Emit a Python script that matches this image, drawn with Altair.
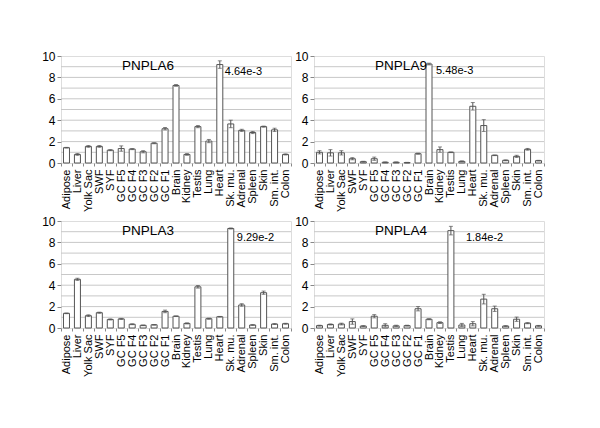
import altair as alt
import pandas as pd

tissues = ["Adipose", "Liver", "Yolk Sac", "SWF", "SYF", "GC F5", "GC F4", "GC F3",
           "GC F2", "GC F1", "Brain", "Kidney", "Testis", "Lung", "Heart", "Sk. mu.",
           "Adrenal", "Spleen", "Skin", "Sm. int.", "Colon"]

y_labels = [0, 2, 4, 6, 8, 10]
grid_lines = [1, 2, 3, 4, 5, 6, 7, 8, 9]

pnpla6_val = [1.43, 0.8, 1.55, 1.55, 1.2, 1.35, 1.3, 1.05, 1.85, 3.2, 7.25, 0.8, 3.4, 2.05,
              9.2, 3.65, 3.05, 2.85, 3.4, 3.1, 0.8]
pnpla6_err = [0.03, 0.08, 0.08, 0.08, 0.05, 0.25, 0.05, 0.1, 0.05, 0.12, 0.08, 0.08, 0.1, 0.15,
              0.35, 0.35, 0.1, 0.1, 0.05, 0.15, 0.05]

pnpla9_val = [1.0, 0.95, 0.95, 0.4, 0.12, 0.4, 0.07, 0.07, 0.04, 0.87, 9.25, 1.25, 1.0, 0.15,
              5.3, 3.5, 0.72, 0.25, 0.62, 1.28, 0.22]
pnpla9_err = [0.15, 0.3, 0.2, 0.1, 0.04, 0.15, 0.03, 0.03, 0.02, 0.05, 0.08, 0.25, 0.03, 0.05,
              0.35, 0.55, 0.03, 0.04, 0.1, 0.08, 0.03]

pnpla3_val = [1.37, 4.55, 1.15, 1.43, 0.8, 0.85, 0.35, 0.25, 0.3, 1.55, 1.1, 0.43, 3.85, 0.87,
              1.05, 9.3, 2.15, 0.28, 3.3, 0.37, 0.4]
pnpla3_err = [0.03, 0.1, 0.08, 0.05, 0.05, 0.05, 0.04, 0.03, 0.03, 0.12, 0.03, 0.05, 0.12, 0.05,
              0.03, 0.05, 0.12, 0.03, 0.15, 0.04, 0.04]

pnpla4_val = [0.22, 0.33, 0.37, 0.6, 0.18, 1.1, 0.25, 0.2, 0.22, 1.8, 0.82, 0.5, 9.1, 0.28,
              0.4, 2.7, 1.8, 0.18, 0.82, 0.45, 0.2]
pnpla4_err = [0.04, 0.05, 0.08, 0.25, 0.04, 0.15, 0.15, 0.06, 0.04, 0.2, 0.05, 0.08, 0.4, 0.15,
              0.2, 0.45, 0.25, 0.04, 0.2, 0.05, 0.04]

notes = {
    "PNPLA6": ("4.64e-3", "Heart", 8.5, 5),
    "PNPLA9": ("5.48e-3", "Brain", 8.6, 7),
    "PNPLA3": ("9.29e-2", "Sk. mu.", 8.4, 6),
    "PNPLA4": ("1.84e-2", "Testis", 8.4, 15),
}

FONT = "Liberation Sans"
STROKE = "#555555"


def yax():
    return alt.Axis(values=y_labels, labelFontSize=12, labelFont=FONT, labelColor="#000",
                    labelOverlap=False, labelFlush=False, labelBound=False, grid=False,
                    domain=False, tickSize=4, tickColor="#888", labelPadding=2)


def xax():
    return alt.Axis(labelAngle=-90, labelFontSize=11, labelFont=FONT, labelColor="#000",
                    labelOverlap=False, grid=False, domain=False, tickBand="extent",
                    tickSize=3, tickColor="#888", labelPadding=3)


def panel(name, vals, errs):
    df = pd.DataFrame({"tissue": tissues, "value": vals, "err": errs})
    df["lo"] = df["value"] - df["err"]
    df["hi"] = df["value"] + df["err"]

    xscale = alt.Scale(domain=tissues, paddingInner=0.0, paddingOuter=0.0)
    yscale = alt.Scale(domain=[0, 10], nice=False)

    x = alt.X("tissue:N", sort=tissues, scale=xscale, title=None, axis=xax())
    y = alt.Y("value:Q", scale=yscale, title=None, axis=yax())

    gdf = pd.DataFrame({"g": grid_lines})
    grid = alt.Chart(gdf).mark_rule(color="#c8c8c8", strokeWidth=1).encode(
        y=alt.Y("g:Q", scale=yscale, title=None, axis=yax()))

    base = alt.Chart(df)
    bars = base.mark_bar(size=6, fill="white", stroke=STROKE, strokeWidth=1).encode(x=x, y=y)
    err = base.mark_rule(color=STROKE, strokeWidth=1).encode(
        x=x, y=alt.Y("lo:Q", title=None, axis=yax()), y2="hi:Q")
    cap_lo = base.mark_tick(color=STROKE, thickness=1, size=4).encode(
        x=x, y=alt.Y("lo:Q", title=None, axis=yax()))
    cap_hi = base.mark_tick(color=STROKE, thickness=1, size=4).encode(
        x=x, y=alt.Y("hi:Q", title=None, axis=yax()))

    note_text, note_cat, note_y, note_dx = notes[name]
    ndf = pd.DataFrame({"tissue": [note_cat], "value": [note_y], "label": [note_text]})
    note = alt.Chart(ndf).mark_text(align="left", baseline="middle", dx=note_dx, fontSize=11,
                                    font=FONT, color="#000").encode(
        x=x, y=y, text="label:N")

    tdf = pd.DataFrame({"label": [name]})
    title = alt.Chart(tdf).mark_text(align="center", baseline="middle", fontSize=13.5,
                                     font=FONT, color="#000").encode(
        x=alt.value(87), y=alt.value(10), text="label:N")

    return alt.layer(grid, bars, err, cap_lo, cap_hi, note, title).properties(
        width=230, height=107)


p6 = panel("PNPLA6", pnpla6_val, pnpla6_err)
p9 = panel("PNPLA9", pnpla9_val, pnpla9_err)
p3 = panel("PNPLA3", pnpla3_val, pnpla3_err)
p4 = panel("PNPLA4", pnpla4_val, pnpla4_err)

chart = alt.vconcat(
    alt.hconcat(p6, p9, spacing=2),
    alt.hconcat(p3, p4, spacing=2),
    spacing=2,
).properties(
    padding={"left": 33, "top": 41, "right": 5, "bottom": 5}
).configure_view(
    stroke="#666666", strokeWidth=1
).configure(background="white")

chart.save("out.html", embed_options={"renderer": "svg", "actions": False})
